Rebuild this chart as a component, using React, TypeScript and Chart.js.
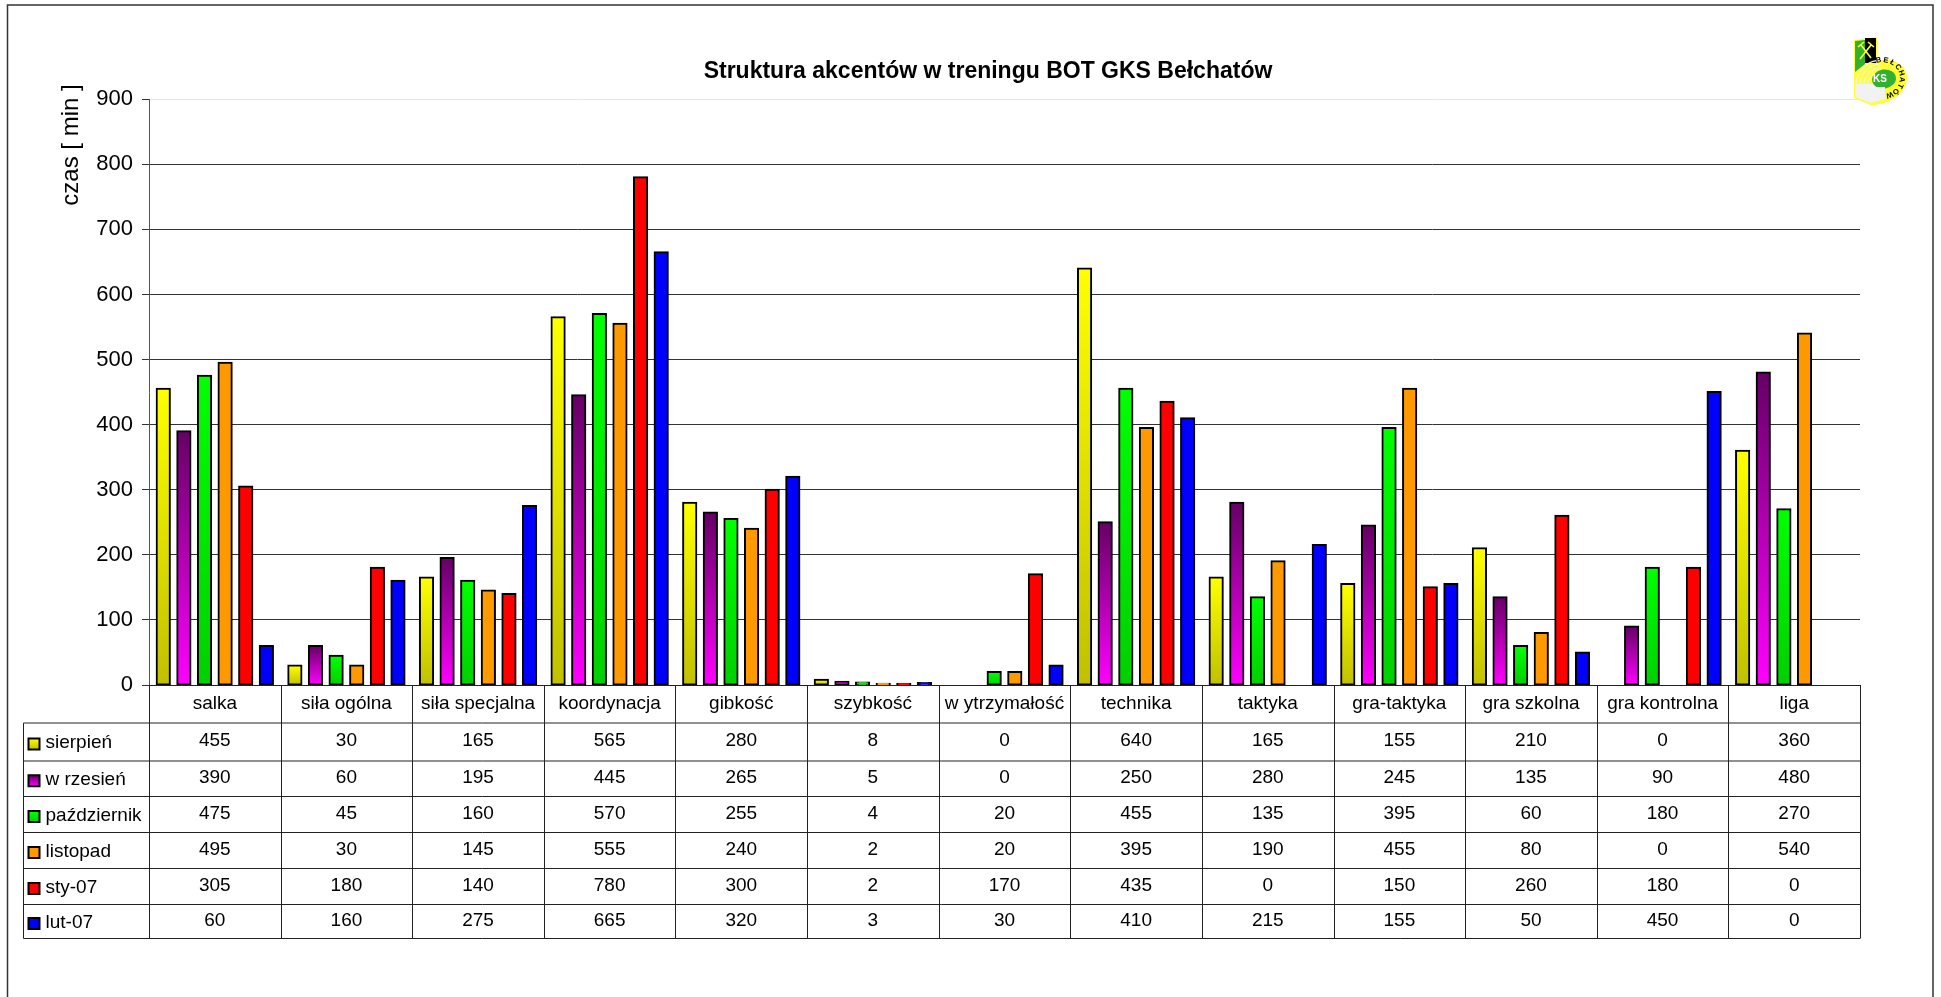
import { useEffect, useRef } from "react";
import { Chart, registerables } from "chart.js";

Chart.register(...registerables);

const categories = ["salka", "siła ogólna", "siła specjalna", "koordynacja", "gibkość", "szybkość", "w ytrzymałość", "technika", "taktyka", "gra-taktyka", "gra szkolna", "gra kontrolna", "liga"];
const sierpien = [455, 30, 165, 565, 280, 8, 0, 640, 165, 155, 210, 0, 360];
const wrzesien = [390, 60, 195, 445, 265, 5, 0, 250, 280, 245, 135, 90, 480];
const pazdziernik = [475, 45, 160, 570, 255, 4, 20, 455, 135, 395, 60, 180, 270];
const listopad = [495, 30, 145, 555, 240, 2, 20, 395, 190, 455, 80, 0, 540];
const styczen = [305, 180, 140, 780, 300, 2, 170, 435, 0, 150, 260, 180, 0];
const luty = [60, 160, 275, 665, 320, 3, 30, 410, 215, 155, 50, 450, 0];

const series = [
  { label: "sierpień", data: sierpien, top: "#ffff00", bottom: "#c0c000" },
  { label: "w rzesień", data: wrzesien, top: "#660066", bottom: "#ff00ff" },
  { label: "październik", data: pazdziernik, top: "#00ff00", bottom: "#00d000" },
  { label: "listopad", data: listopad, top: "#ff9900", bottom: "#ff9900" },
  { label: "sty-07", data: styczen, top: "#ff0000", bottom: "#ff0000" },
  { label: "lut-07", data: luty, top: "#0000ff", bottom: "#0000ff" },
];

const FONT = '"Liberation Sans", Arial, sans-serif';
const TABLE_ROWS = [723, 761, 796.5, 832.5, 868.5, 904.5, 938.5];
const TABLE_LEFT = 23.5;
const CREST_NAME = "BEŁCHATÓW";

function gradient(ctx: CanvasRenderingContext2D, y0: number, y1: number, top: string, bottom: string) {
  const g = ctx.createLinearGradient(0, y0, 0, y1);
  g.addColorStop(0, top);
  g.addColorStop(1, bottom);
  return g;
}

// Outer frame of the sheet; it runs off the bottom of the page.
const framePlugin = {
  id: "frame",
  beforeDraw(chart: any) {
    const { ctx } = chart;
    ctx.save();
    ctx.fillStyle = "#fff";
    ctx.fillRect(0, 0, chart.width, chart.height);
    ctx.strokeStyle = "#333";
    ctx.lineWidth = 1.5;
    ctx.beginPath();
    ctx.moveTo(7.5, 1000);
    ctx.lineTo(7.5, 5);
    ctx.lineTo(1933, 5);
    ctx.lineTo(1933, 1000);
    ctx.stroke();
    ctx.restore();
  },
};

// Shifts the title block so that it sits over its own centre line.
const titlePlugin = {
  id: "titleShift",
  afterLayout(chart: any) {
    const t = chart.titleBlock;
    if (t) {
      t.left = 36;
      t.right = 1940;
    }
  },
};

// Value axis caption, which reaches above the top of the axis.
const axisCaptionPlugin = {
  id: "axisCaption",
  afterDraw(chart: any) {
    const { ctx } = chart;
    ctx.save();
    ctx.translate(71, 145);
    ctx.rotate(-Math.PI / 2);
    ctx.font = `24px ${FONT}`;
    ctx.fillStyle = "#000";
    ctx.textAlign = "center";
    ctx.textBaseline = "middle";
    ctx.fillText("czas [ min ]", 0, 0);
    ctx.restore();
  },
};

// Data table under the plot: row and column rules, legend keys and values.
const tablePlugin = {
  id: "dataTable",
  afterDraw(chart: any) {
    const { ctx, scales } = chart;
    const x = scales.x;
    const left = x.left;
    const right = x.right;
    const step = (right - left) / categories.length;
    const axisY = Math.round(scales.y.getPixelForValue(0)) + 0.5;
    ctx.save();
    ctx.strokeStyle = "#222";
    ctx.lineWidth = 1;
    ctx.beginPath();
    ctx.moveTo(left, axisY);
    ctx.lineTo(right + 0.5, axisY);
    TABLE_ROWS.forEach((y) => {
      ctx.moveTo(TABLE_LEFT, y);
      ctx.lineTo(right, y);
    });
    ctx.moveTo(TABLE_LEFT, TABLE_ROWS[0]);
    ctx.lineTo(TABLE_LEFT, TABLE_ROWS[6]);
    categories.forEach((_, i) => {
      const xp = Math.round(left + i * step) + 0.5;
      ctx.moveTo(xp, axisY);
      ctx.lineTo(xp, TABLE_ROWS[6]);
    });
    ctx.moveTo(right + 0.5, axisY);
    ctx.lineTo(right + 0.5, TABLE_ROWS[6]);
    ctx.stroke();

    ctx.font = `19px ${FONT}`;
    ctx.textBaseline = "middle";
    series.forEach((s, r) => {
      const cy = (TABLE_ROWS[r] + TABLE_ROWS[r + 1]) / 2;
      const ky = cy - 3.5;
      ctx.fillStyle = gradient(ctx, ky, ky + 11, s.top, s.bottom);
      ctx.strokeStyle = "#000";
      ctx.lineWidth = 2;
      ctx.fillRect(28.5, ky, 11, 11);
      ctx.strokeRect(28.5, ky, 11, 11);
      ctx.fillStyle = "#000";
      ctx.textAlign = "left";
      ctx.fillText(s.label, 45.5, cy + 1);
      ctx.textAlign = "center";
      s.data.forEach((v, c) => {
        ctx.fillText(String(v), x.getPixelForValue(c), cy - 1);
      });
    });
    ctx.restore();
  },
};

// Club crest in the top right corner of the sheet.
const crestPlugin = {
  id: "crest",
  afterDraw(chart: any) {
    const { ctx } = chart;
    ctx.save();
    ctx.translate(1853, 37);

    // yellow silhouette
    ctx.fillStyle = "#ffff33";
    ctx.beginPath();
    ctx.moveTo(1, 3);
    ctx.lineTo(24, 0);
    ctx.lineTo(24, 24);
    ctx.bezierCurveTo(40, 20, 55, 28, 54, 42);
    ctx.bezierCurveTo(53, 58, 34, 68, 18, 68);
    ctx.lineTo(1, 61);
    ctx.closePath();
    ctx.fill();

    // upper panels
    ctx.fillStyle = "#33b030";
    ctx.beginPath();
    ctx.moveTo(2, 4);
    ctx.lineTo(12, 3);
    ctx.lineTo(12, 27);
    ctx.lineTo(2, 35);
    ctx.closePath();
    ctx.fill();
    ctx.fillStyle = "#000";
    ctx.fillRect(12, 1, 11, 25);

    // crossed hammers
    ctx.strokeStyle = "#ffff33";
    ctx.lineWidth = 1.6;
    ctx.beginPath();
    ctx.moveTo(8, 8);
    ctx.lineTo(18, 21);
    ctx.moveTo(18, 8);
    ctx.lineTo(7, 22);
    ctx.moveTo(5, 10);
    ctx.lineTo(11, 5);
    ctx.moveTo(15, 5);
    ctx.lineTo(21, 10);
    ctx.stroke();

    // pale arcs sweeping round the ring
    ctx.strokeStyle = "#f4f4e0";
    ctx.lineWidth = 1.2;
    [13, 17, 21, 25].forEach((r) => {
      ctx.beginPath();
      ctx.arc(28, 48, r, Math.PI * 0.95, Math.PI * 1.5);
      ctx.stroke();
    });

    // lower block
    ctx.fillStyle = "#f2f2f2";
    ctx.beginPath();
    ctx.moveTo(2, 47);
    ctx.lineTo(32, 47);
    ctx.lineTo(32, 62);
    ctx.lineTo(18, 66);
    ctx.lineTo(2, 60);
    ctx.closePath();
    ctx.fill();

    // green disc with the club initials
    ctx.fillStyle = "#33b030";
    ctx.beginPath();
    ctx.ellipse(31, 42, 12, 9.5, -0.15, 0, Math.PI * 2);
    ctx.fill();
    ctx.fillStyle = "#f2f2f2";
    ctx.fillRect(20, 50, 12, 4);
    ctx.fillStyle = "#fff";
    ctx.font = `bold 10px ${FONT}`;
    ctx.textAlign = "center";
    ctx.textBaseline = "middle";
    ctx.fillText("KS", 27, 42);

    // club name following the right-hand edge
    ctx.fillStyle = "#000";
    ctx.font = `bold 7.5px ${FONT}`;
    const letters = Array.from(CREST_NAME);
    letters.forEach((ch, i) => {
      const a = ((-100 + (i * 168) / (letters.length - 1)) * Math.PI) / 180;
      ctx.save();
      ctx.translate(29 + 20 * Math.cos(a), 41 + 18 * Math.sin(a));
      ctx.rotate(a + Math.PI / 2);
      ctx.fillText(ch, 0, 0);
      ctx.restore();
    });
    ctx.restore();
  },
};

export default function App() {
  const ref = useRef<HTMLCanvasElement | null>(null);

  useEffect(() => {
    const chart = new Chart(ref.current as HTMLCanvasElement, {
      type: "bar",
      data: {
        labels: categories,
        datasets: series.map((s) => ({
          label: s.label,
          data: s.data,
          borderColor: "#000",
          borderWidth: (c: any) => (c.raw === 0 ? 0 : 2),
          inflateAmount: (c: any) => (c.raw === 0 ? 0 : 1),
          borderSkipped: false,
          categoryPercentage: 0.94,
          barPercentage: 0.64,
          backgroundColor: (c: any) => {
            const scale = c.chart.scales.y;
            if (!scale || typeof c.raw !== "number") return s.top;
            const y0 = scale.getPixelForValue(c.raw);
            const y1 = scale.getPixelForValue(0);
            if (!Number.isFinite(y0) || !Number.isFinite(y1)) return s.top;
            return gradient(c.chart.ctx, y0, y1, s.top, s.bottom);
          },
        })),
      },
      plugins: [framePlugin, titlePlugin, axisCaptionPlugin, tablePlugin, crestPlugin],
      options: {
        responsive: false,
        animation: false,
        layout: { padding: { left: 50, right: 81, top: 0, bottom: 274 } },
        plugins: {
          legend: { display: false },
          tooltip: { enabled: false },
          title: {
            display: true,
            text: "Struktura akcentów w treningu BOT GKS Bełchatów",
            color: "#000",
            font: { family: FONT, size: 23, weight: "bold" },
            padding: { top: 58, bottom: 13.6 },
          },
        },
        scales: {
          x: {
            afterFit: (s: any) => { s.height = 38; },
            border: { color: "#000", width: 1 },
            grid: { display: false, drawTicks: false },
            ticks: { color: "#000", font: { family: FONT, size: 19 }, padding: 7, maxRotation: 0, autoSkip: false },
          },
          y: {
            min: 0,
            max: 900,
            afterFit: (s: any) => { s.width = 99; },
            border: { color: "#555", width: 1 },
            grid: {
              color: (c: any) => (c.tick && c.tick.value === 900 ? "#e6e6e6" : "#333"),
              tickColor: "#333",
              tickLength: 7,
            },
            ticks: { stepSize: 100, color: "#000", font: { family: FONT, size: 22 }, padding: 9 },
          },
        },
      } as any,
    });
    return () => chart.destroy();
  }, []);

  return (
    <div style={{ position: "absolute", left: 0, top: 0, width: 1941, height: 997, overflow: "hidden", background: "#fff" }}>
      <canvas ref={ref} width={1941} height={997} style={{ display: "block" }} />
    </div>
  );
}
